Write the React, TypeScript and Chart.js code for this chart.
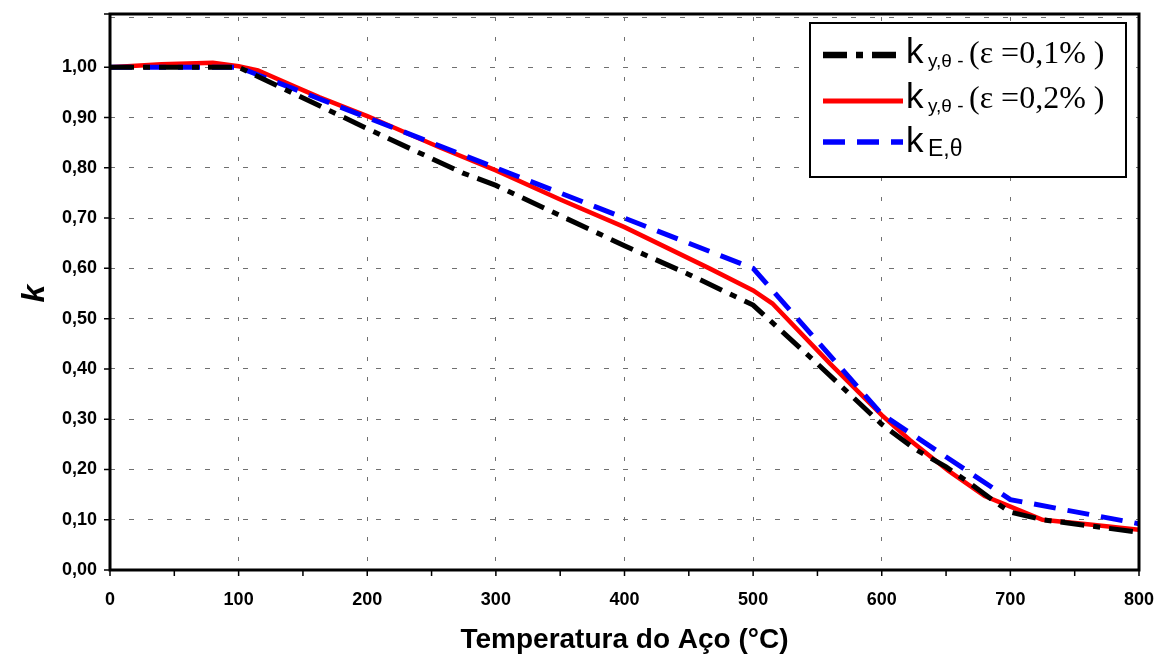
import React, { useEffect, useRef } from "react";
import { Chart, registerables } from "chart.js";
Chart.register(...registerables);

// ---- data ----
const temps01 = [0, 100, 200, 274, 300, 350, 400, 450, 500, 550, 575, 600, 625, 650, 670, 690, 700, 725, 800];
const k01 = [1.0, 1.0, 0.878, 0.79, 0.765, 0.705, 0.645, 0.588, 0.527, 0.41, 0.35, 0.29, 0.242, 0.205, 0.17, 0.132, 0.115, 0.1, 0.075];

const temps02 = [0, 40, 80, 100, 115, 145, 163, 200, 257, 300, 350, 400, 466, 500, 515, 560, 600, 622, 652, 680, 700, 725, 760, 800];
const k02 = [1.0, 1.006, 1.009, 1.002, 0.994, 0.96, 0.94, 0.903, 0.84, 0.795, 0.737, 0.682, 0.6, 0.556, 0.53, 0.41, 0.308, 0.258, 0.197, 0.147, 0.126, 0.1, 0.091, 0.08];

const tempsE = [0, 100, 200, 300, 400, 500, 600, 700, 800];
const kE = [1.0, 1.0, 0.9, 0.8, 0.7, 0.6, 0.31, 0.14, 0.092];

const seriesLabels = ["ky,θ - (ε =0,1%)", "ky,θ - (ε =0,2%)", "kE,θ"];
const legendMain = ["k", "k", "k"];
const legendSub = ["y,θ -", "y,θ -", "E,θ"];
const legendRest = ["(ε =0,1% )", "(ε =0,2% )", ""];

const xTitle = "Temperatura do Aço (°C)";
const yTitle = "k";

const toPoints = (xs: number[], ys: number[]) => xs.map((x, i) => ({ x, y: ys[i] }));

const styles = [
  { color: "#000000", dash: [24, 9, 7, 9], width: 5, legendWidth: 6.5 },
  { color: "#ff0000", dash: [] as number[], width: 4.5, legendWidth: 5 },
  { color: "#0000ff", dash: [22, 12], width: 5, legendWidth: 5.5 },
];

const framePlugin = {
  id: "frameAndLegend",
  afterDraw(chart: any) {
    const { ctx, chartArea: a, scales } = chart;
    ctx.save();
    // frame (top edge sits slightly above the 1.1 level)
    const frameTop = a.top - 3;
    ctx.setLineDash([]);
    ctx.strokeStyle = "#000";
    ctx.lineWidth = 3;
    ctx.strokeRect(a.left, frameTop, a.right - a.left, a.bottom - frameTop);
    // tick marks
    ctx.lineWidth = 1.5;
    ctx.beginPath();
    for (let i = 0; i <= 10; i++) {
      const y = scales.y.getPixelForValue(i / 10);
      ctx.moveTo(a.left - 6, y);
      ctx.lineTo(a.left, y);
    }
    ctx.moveTo(a.left - 6, frameTop);
    ctx.lineTo(a.left, frameTop);
    for (let t = 0; t <= 800; t += 50) {
      const x = scales.x.getPixelForValue(t);
      ctx.moveTo(x, a.bottom);
      ctx.lineTo(x, a.bottom + 6);
    }
    ctx.stroke();

    // legend
    const bx = 810, by = 23, bw = 316, bh = 154;
    ctx.fillStyle = "#fff";
    ctx.fillRect(bx, by, bw, bh);
    ctx.lineWidth = 2;
    ctx.strokeStyle = "#000";
    ctx.strokeRect(bx, by, bw, bh);
    const sampleY = [55, 101, 142];
    const baseY = [63, 108, 152];
    const subSize = [19, 19, 23];
    for (let i = 0; i < 3; i++) {
      const st = styles[i];
      ctx.save();
      ctx.strokeStyle = st.color;
      ctx.lineWidth = st.legendWidth;
      ctx.setLineDash(st.dash);
      ctx.beginPath();
      ctx.moveTo(823, sampleY[i]);
      ctx.lineTo(903, sampleY[i]);
      ctx.stroke();
      ctx.restore();
      ctx.fillStyle = "#000";
      ctx.textBaseline = "alphabetic";
      ctx.textAlign = "left";
      ctx.font = "35px 'Liberation Sans', Arial, sans-serif";
      ctx.fillText(legendMain[i], 906, baseY[i]);
      ctx.font = subSize[i] + "px 'Liberation Sans', Arial, sans-serif";
      ctx.fillText(legendSub[i], 928, baseY[i] + 4);
      if (legendRest[i]) {
        ctx.font = "32px 'Liberation Serif', 'Times New Roman', serif";
        ctx.fillText(legendRest[i], 969, baseY[i]);
      }
    }
    ctx.restore();
  },
};

export default function App() {
  const ref = useRef<HTMLCanvasElement | null>(null);
  useEffect(() => {
    if (!ref.current) return;
    const tickFont = { family: "'Liberation Sans', Arial, sans-serif", weight: "bold" as const, size: 18 };
    const chart = new Chart(ref.current, {
      type: "line",
      data: {
        datasets: [
          {
            label: seriesLabels[0],
            data: toPoints(temps01, k01),
            borderColor: styles[0].color,
            borderDash: styles[0].dash,
            borderWidth: styles[0].width,
            pointRadius: 0,
            tension: 0,
            fill: false,
          },
          {
            label: seriesLabels[2],
            data: toPoints(tempsE, kE),
            borderColor: styles[2].color,
            borderDash: styles[2].dash,
            borderWidth: styles[2].width,
            pointRadius: 0,
            tension: 0,
            fill: false,
          },
          {
            label: seriesLabels[1],
            data: toPoints(temps02, k02),
            borderColor: styles[1].color,
            borderWidth: styles[1].width,
            pointRadius: 0,
            tension: 0,
            fill: false,
          },
        ],
      },
      options: {
        animation: false,
        responsive: false,
        maintainAspectRatio: false,
        layout: { padding: { top: 17, right: 19, left: 0, bottom: 0 } },
        plugins: { legend: { display: false }, tooltip: { enabled: false } },
        scales: {
          x: {
            type: "linear",
            min: 0,
            max: 800,
            ticks: { stepSize: 100, color: "#000", font: tickFont, padding: 19, maxRotation: 0 },
            grid: { color: "#707070", lineWidth: 1, drawTicks: false },
            border: { display: false, dash: [4, 16] },
            title: {
              display: true,
              text: xTitle,
              color: "#000",
              font: { family: "'Liberation Sans', Arial, sans-serif", weight: "bold", size: 28 },
              padding: { top: 0, bottom: 3 },
            },
            afterFit: (s: any) => {
              s.height = 90;
              s.paddingLeft = 0;
              s.paddingRight = 0;
            },
          },
          y: {
            min: 0,
            max: 1.1,
            ticks: {
              stepSize: 0.1,
              color: "#000",
              font: tickFont,
              padding: 13,
              callback: (v: any) => (Number(v) > 1.05 ? "" : Number(v).toFixed(2).replace(".", ",")),
            },
            grid: { color: "#707070", lineWidth: 1, drawTicks: false },
            border: { display: false, dash: [5, 14] },
            title: {
              display: true,
              text: yTitle,
              color: "#000",
              font: { family: "'Liberation Sans', Arial, sans-serif", weight: "bold", style: "italic", size: 32 },
              padding: { top: 16, bottom: 0 },
            },
            afterFit: (s: any) => {
              s.width = 110;
              s.paddingTop = 0;
              s.paddingBottom = 0;
            },
          },
        },
      },
      plugins: [framePlugin],
    });
    return () => chart.destroy();
  }, []);
  return (
    <div style={{ position: "absolute", left: 0, top: 0, width: 1158, height: 660, background: "#fff" }}>
      <canvas ref={ref} width={1158} height={660} style={{ display: "block" }} />
    </div>
  );
}
